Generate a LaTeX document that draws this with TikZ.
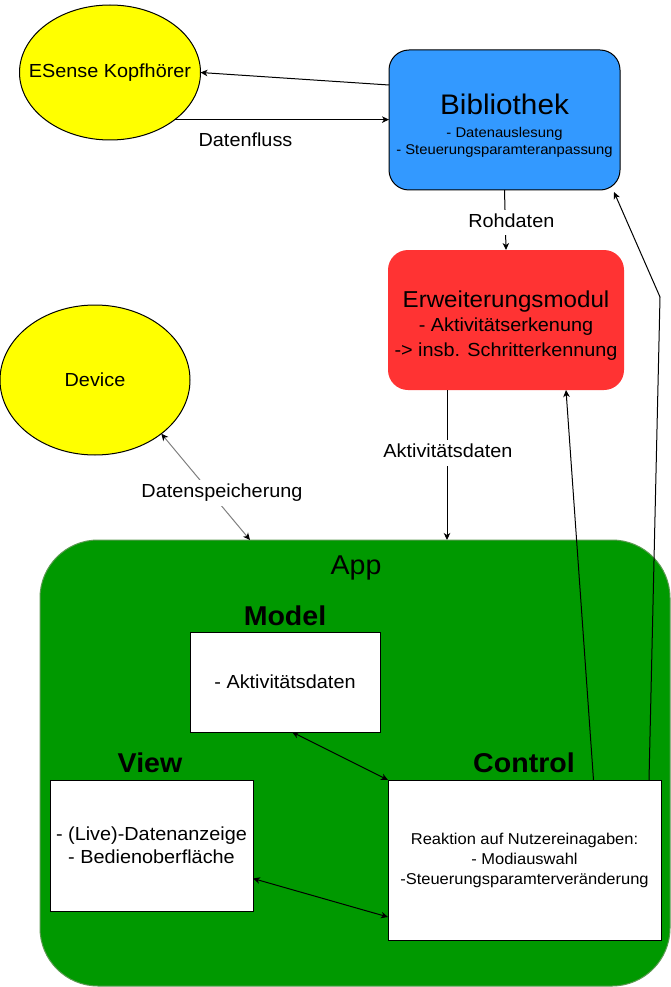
\documentclass[tikz,border=0pt]{standalone}
\usepackage{fontspec}
\setmainfont{Liberation Sans}[FakeStretch=1.05]
\usetikzlibrary{shapes.geometric,arrows.meta,calc}
\definecolor{esy}{HTML}{FFFF00}
\definecolor{bibblue}{HTML}{3399FF}
\definecolor{erwred}{HTML}{FF3333}
\definecolor{appgreen}{HTML}{009900}
\definecolor{appedge}{HTML}{5A9A50}
\newcommand\myfs[2]{\fontsize{#1}{#2}\selectfont}
\begin{document}
\begin{tikzpicture}[x=1pt,y=-1pt,
  every node/.style={inner sep=0pt, outer sep=0pt},
  ell/.style={ellipse, draw=black, line width=1pt, fill=esy},
  roundbox/.style={rectangle, rounded corners=20pt, align=center},
  mvc/.style={rectangle, draw=black, line width=1pt, fill=white, align=center},
  arr/.style={line width=1pt, -{Stealth[length=7pt,width=6.5pt,inset=2pt]}},
  darr/.style={line width=1pt, {Stealth[length=7pt,width=6.5pt,inset=2pt]}-{Stealth[length=7pt,width=6.5pt,inset=2pt]}},
  lbl/.style={fill=white, inner xsep=1pt, inner ysep=4pt, text height=13.5pt, text depth=4pt, font=\myfs{18.9}{22}},
  mvctitle/.style={font=\bfseries\myfs{27.2}{30}},
]
\useasboundingbox (0,0) rectangle (671,987);

% App container
\node[rectangle, rounded corners=58pt, fill=appgreen, draw=appedge, line width=1pt,
      minimum width=630pt, minimum height=446pt] (app) at (355,763) {};
\node[font=\myfs{27.2}{30}] (apptitle) at (356,568) {App};

% Ellipses
\node[ell, minimum width=181pt, minimum height=135pt] (esense) at (110,72.5) {};
\node[font=\myfs{18.9}{22}] (esensetxt) at (esense.center) {ESense Kopfhörer};
\node[ell, minimum width=190pt, minimum height=150pt] (device) at (95,380) {};
\node[font=\myfs{18.9}{22}] (devicetxt) at (device.center) {Device};

% Bibliothek
\node[roundbox, draw=black, line width=1pt, fill=bibblue, minimum width=231pt, minimum height=140pt,
      font=\myfs{14.1}{17}] (bib) at (504.5,120)
  {\rule{0pt}{32pt}{\myfs{28.3}{30}Bibliothek}\\[6pt]- Datenauslesung\\- Steuerungsparamteranpassung};

% Erweiterungsmodul
\node[roundbox, fill=erwred, minimum width=236pt, minimum height=140pt,
      font=\myfs{18.9}{24.5}] (erw) at (506,320)
  {\rule{0pt}{27pt}{\myfs{23}{26}Erweiterungsmodul}\\- Aktivitätserkenung\\-> insb. Schritterkennung};

% MVC boxes
\node[mvc, minimum width=190pt, minimum height=100pt, font=\myfs{18.9}{22}] (model) at (285,682) {- Aktivitätsdaten};
\node[mvctitle] (modeltitle) at (285,616) {Model};
\node[mvc, minimum width=203pt, minimum height=131pt, font=\myfs{18.9}{23}] (view) at (151.5,845.5)
  {- (Live)-Datenanzeige\\- Bedienoberfläche};
\node[mvctitle] (viewtitle) at (150,763) {View};
\node[mvc, minimum width=273pt, minimum height=160pt, font=\myfs{15.7}{20}] (control) at (524.5,860)
  {Reaktion auf Nutzereinagaben:\\- Modiauswahl\\-Steuerungsparamterveränderung};
\node[mvctitle] (controltitle) at (524,763) {Control};

% Connectors
\draw[arr] ([yshift=35pt]bib.west) -- (esense.east);
\draw[arr] (esense.-36.4) -- (esense.-36.4 -| bib.west)
  node[pos=0.33, anchor=base, yshift=-27pt, font=\myfs{18.9}{22}] (datenfluss) {Datenfluss};
\draw[arr] (bib.south) -- (erw.north)
  node[lbl, pos=0.54, xshift=6pt] (rohdaten) {Rohdaten};
\draw[arr] ([xshift=-59pt]erw.south) -- ([xshift=-59pt]erw.south |- app.north)
  node[lbl, pos=0.42, xshift=1pt] (aktdaten) {Aktivitätsdaten};
\draw[line width=1pt, draw=gray, {Stealth[length=7pt,width=6.5pt,inset=2pt,black]}-{Stealth[length=7pt,width=6.5pt,inset=2pt,black]}]
  (device.-39) -- ([xshift=210pt]app.north west)
  node[lbl, pos=0.56, xshift=11pt] (speicher) {Datenspeicherung};
\draw[darr] ([xshift=7pt]model.south) -- (control.north west);
\draw[darr] ([yshift=-33pt]view.east) -- ([yshift=-57pt]control.west);
\draw[arr] ([xshift=69pt]control.north) -- ([xshift=60pt]erw.south);
\coordinate (kink) at (660,297);
\draw[arr] ([xshift=-12pt]control.north east) -- (kink) -- ([xshift=-6pt,yshift=-2pt]bib.south east);
\end{tikzpicture}
\end{document}
